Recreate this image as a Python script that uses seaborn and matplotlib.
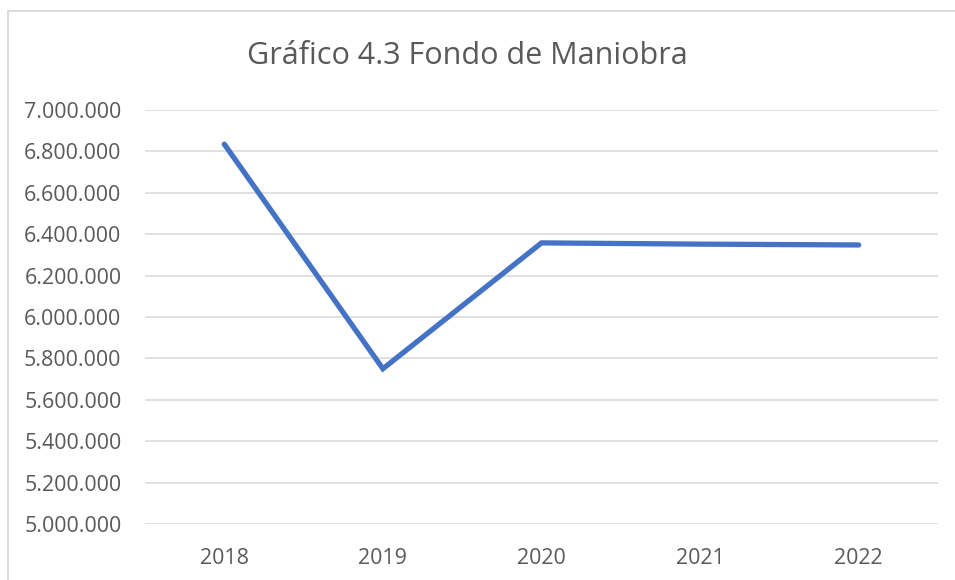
import matplotlib
matplotlib.use("Agg")
import matplotlib.pyplot as plt
import matplotlib.ticker as mticker
from matplotlib.patches import Rectangle
import seaborn as sns
import pandas as pd

years = ["2018", "2019", "2020", "2021", "2022"]
fondo = [6835000, 5750000, 6358000, 6352000, 6348000]
y_ticks = [5000000 + 200000 * i for i in range(11)]
title = "Gráfico 4.3 Fondo de Maniobra"

sns.set_theme(style="white")
plt.rcParams['font.family'] = ['Open Sans', 'DejaVu Sans']

df = pd.DataFrame({"year": years, "value": fondo})

fig = plt.figure(figsize=(9.55, 5.8), dpi=100)
ax = fig.add_axes([145/955, 1-524/580, (938-145)/955, (524-110)/580])

sns.lineplot(data=df, x="year", y="value", ax=ax, color="#4472C4",
             linewidth=3.8, solid_capstyle="round", solid_joinstyle="miter",
             sort=False)

ax.set_ylim(5000000, 7000000)
ax.set_xlim(-0.5, 4.5)
ax.set_yticks(y_ticks)
ax.yaxis.set_major_formatter(mticker.FuncFormatter(lambda v, p: f"{int(round(v)):,}".replace(",", ".")))
ax.grid(axis="y", color="#D9D9D9", linewidth=1.1)
ax.grid(axis="x", visible=False)
for s in ax.spines.values():
    s.set_visible(False)
ax.tick_params(axis="y", length=0, pad=17, labelsize=15.4, labelcolor="#595959")
ax.tick_params(axis="x", length=0, pad=17, labelsize=15.4, labelcolor="#595959")
ax.set_xlabel("")
ax.set_ylabel("")

fig.text(467/955, 1-56/580, title, ha="center", va="center", fontsize=22, color="#595959")

# outer chart frame (partly off-canvas)
frame = Rectangle((7.5/955, -0.1), 1.2, 1 - 11/580 + 0.1, transform=fig.transFigure,
                  fill=False, edgecolor="#D9D9D9", linewidth=1.3, clip_on=False)
fig.patches.append(frame)

fig.savefig("out.png", dpi=100)
